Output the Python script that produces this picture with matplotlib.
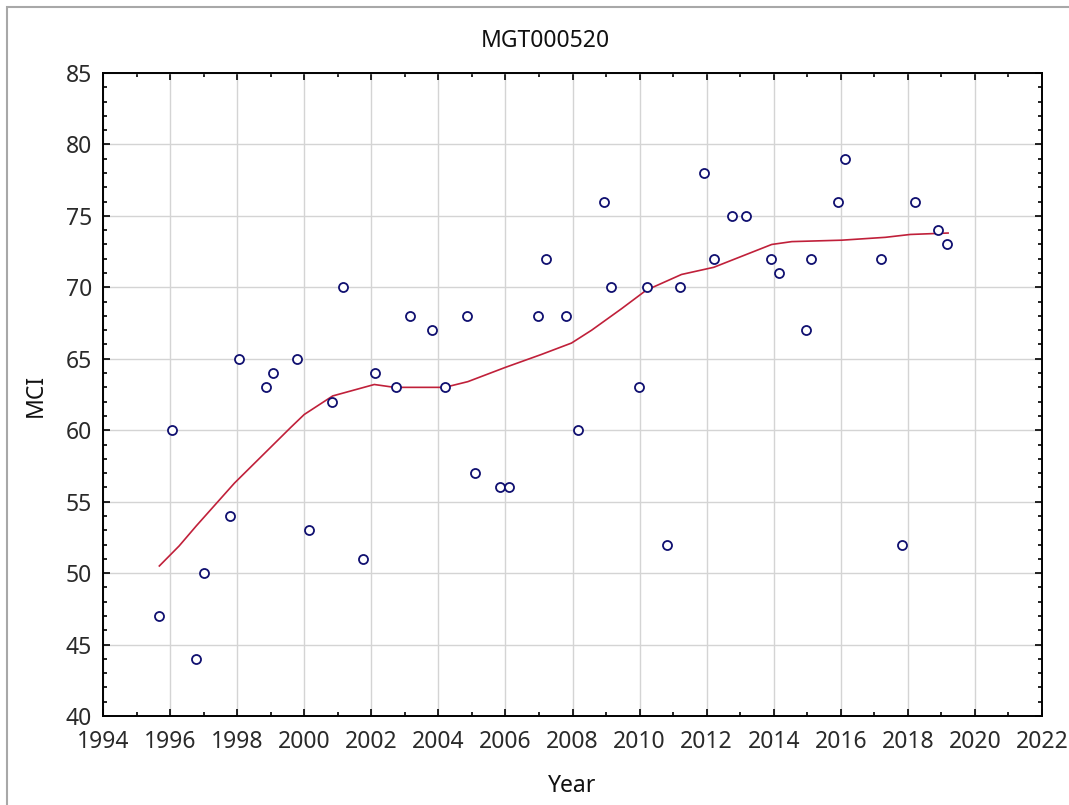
import matplotlib
matplotlib.use("Agg")
import matplotlib.pyplot as plt
from matplotlib.ticker import MultipleLocator
from matplotlib.patches import Rectangle

# Observed MCI values per sampling date (decimal years)
years = [1995.66, 1996.05, 1996.78, 1997.00, 1997.80, 1998.07, 1998.87, 1999.07,
         1999.78, 2000.13, 2000.83, 2001.17, 2001.75, 2002.10, 2002.75, 2003.14,
         2003.82, 2004.19, 2004.86, 2005.10, 2005.83, 2006.10, 2006.97, 2007.20,
         2007.80, 2008.15, 2008.93, 2009.14, 2009.99, 2010.23, 2010.81, 2011.20,
         2011.92, 2012.22, 2012.76, 2013.16, 2013.92, 2014.16, 2014.96, 2015.11,
         2015.93, 2016.13, 2017.19, 2017.82, 2018.21, 2018.90, 2019.17]
mci = [47, 60, 44, 50, 54, 65, 63, 64,
       65, 53, 62, 70, 51, 64, 63, 68,
       67, 63, 68, 57, 56, 56, 68, 72,
       68, 60, 76, 70, 63, 70, 52, 70,
       78, 72, 75, 75, 72, 71, 67, 72,
       76, 79, 72, 52, 76, 74, 73]

# Smoothed fit curve
fit_years = [1995.68, 1996.27, 1996.78, 1997.92, 1999.60, 2000.00, 2000.85,
             2002.09, 2002.69, 2004.19, 2004.88, 2006.00, 2007.07, 2007.97,
             2008.57, 2009.46, 2010.20, 2011.25, 2012.21, 2013.94, 2014.54,
             2016.03, 2017.33, 2018.07, 2019.20]
fit_mci = [50.5, 51.9, 53.3, 56.3, 60.2, 61.1, 62.4,
           63.2, 63.0, 63.0, 63.4, 64.4, 65.3, 66.1,
           67.0, 68.5, 69.8, 70.9, 71.4, 73.0, 73.2,
           73.3, 73.5, 73.7, 73.8]

plt.rcParams['font.family'] = ['Noto Sans', 'DejaVu Sans']

fig = plt.figure(figsize=(10.69, 8.05), dpi=100)
ax = fig.add_axes([103 / 1069, 1 - 716 / 805, 939 / 1069, 643 / 805])

ax.plot(fit_years, fit_mci, color='#c0203a', lw=1.2, zorder=3)
ax.plot(years, mci, linestyle='none', marker='o', markersize=6.5,
        markerfacecolor='white', markeredgecolor='#101070',
        markeredgewidth=1.3, zorder=4)

ax.set_xlim(1994, 2022)
ax.set_ylim(40, 85)
ax.xaxis.set_major_locator(MultipleLocator(2))
ax.xaxis.set_minor_locator(MultipleLocator(1))
ax.yaxis.set_major_locator(MultipleLocator(5))
ax.yaxis.set_minor_locator(MultipleLocator(1))

ax.grid(True, which='major', color='#d4d4d4', lw=1.0)
ax.set_axisbelow(True)
for sp in ax.spines.values():
    sp.set_linewidth(1.4)
    sp.set_color('black')

ax.tick_params(which='both', direction='in', top=True, right=True,
               labelsize=16.5, labelcolor='#2a2a2a', width=1.2)
ax.tick_params(which='major', length=5, pad=8)
ax.tick_params(axis='x', which='major', pad=10)
ax.tick_params(which='minor', length=3)

fig.text(545 / 1069, 1 - 41 / 805, "MGT000520", ha='center', va='center',
         fontsize=16.5, color='#111111')
fig.text(36 / 1069, 1 - 395 / 805, "MCI", ha='center', va='center',
         rotation=90, fontsize=16.5, color='#111111')
fig.text(572 / 1069, 1 - 786 / 805, "Year", ha='center', va='center',
         fontsize=16.5, color='#111111')

# thin window border
fig.patches.append(Rectangle((7 / 1069, -0.01), 1.02, 1 - 7 / 805 + 0.01,
                             transform=fig.transFigure, fill=False,
                             edgecolor='#a8a8a8', lw=1.5))

fig.savefig("out.png", dpi=100)
